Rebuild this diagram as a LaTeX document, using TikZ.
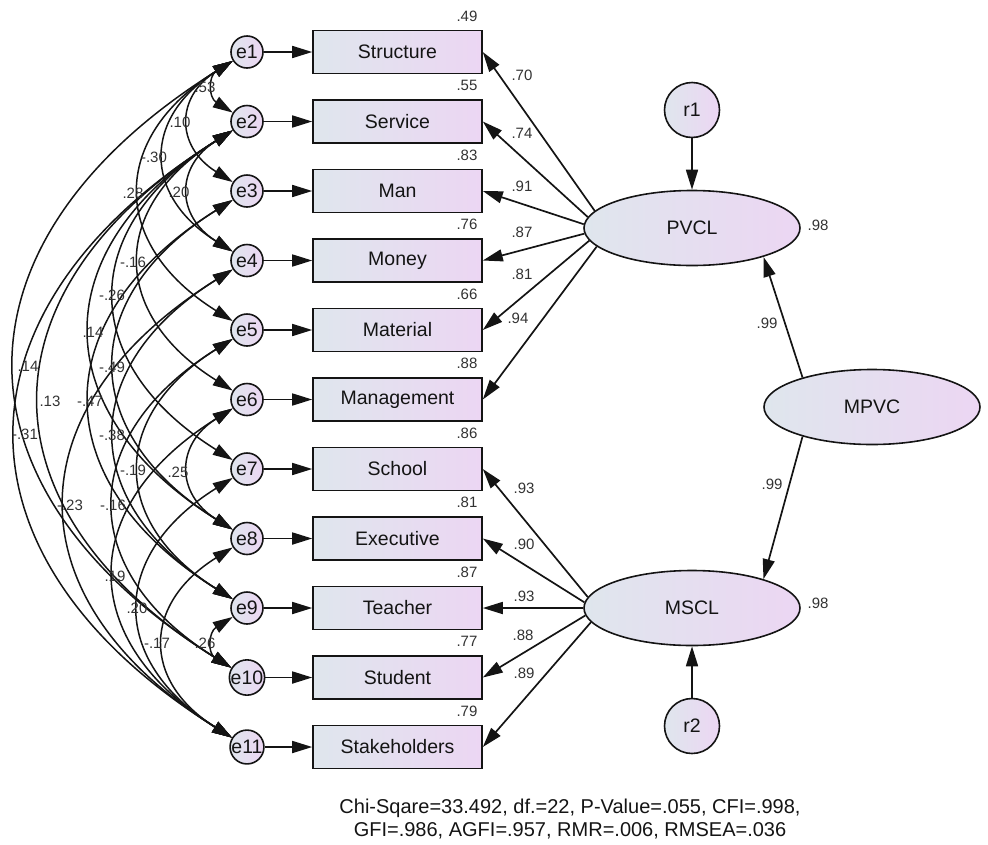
\documentclass[tikz,border=0pt]{standalone}
\usepackage{fontspec}
\setmainfont{Liberation Sans}
\usetikzlibrary{arrows.meta,shapes.geometric}
\definecolor{fillL}{RGB}{223,230,237}
\definecolor{fillR}{RGB}{236,214,243}
\definecolor{edgec}{RGB}{20,20,20}
\definecolor{labc}{RGB}{50,50,50}
\begin{document}
\begin{tikzpicture}[x=1pt,y=1pt,
  >={Triangle[length=20pt,width=12pt]},
  every node/.style={font=\fontsize{19.5}{22}\selectfont, text=edgec},
  errnode/.style={circle, draw=edgec, line width=1.6pt, left color=fillL, right color=fillR,
    minimum size=32pt, inner sep=0pt},
  obsbox/.style={rectangle, draw=edgec, line width=1.6pt, left color=fillL, right color=fillR,
    minimum width=169pt, minimum height=43pt, inner sep=0pt},
  latent/.style={ellipse, draw=edgec, line width=1.6pt, left color=fillL, right color=fillR,
    minimum width=216pt, minimum height=75pt, inner sep=0pt},
  resid/.style={circle, draw=edgec, line width=1.6pt, left color=fillL, right color=fillR,
    minimum size=55pt, inner sep=0pt},
  regarrow/.style={->, line width=1.7pt, draw=edgec},
  cov/.style={<->, line width=1.5pt, draw=edgec},
  covbend/.style={out=212, in=148, looseness=1.43},
  est/.style={font=\fontsize{15}{17}\selectfont, text=labc, inner sep=0pt},
]
\useasboundingbox (0,0) rectangle (988,-844);

% error terms and observed indicators
\foreach \i/\t in {1/Structure,2/Service,3/Man,4/Money,5/Material,6/Management,
                   7/School,8/Executive,9/Teacher,10/Student,11/Stakeholders}{
  \node[errnode] (e\i) at (247,{-52-69.5*(\i-1)}) {e\i};
  \node[obsbox] (v\i) at (397.5,{-52-69.5*(\i-1)}) {\t};
  \draw[regarrow] (e\i) -- (v\i);
}

% squared multiple correlations
\foreach \i/\r in {1/.49,2/.55,3/.83,4/.76,5/.66,6/.88,7/.86,8/.81,9/.87,10/.77,11/.79}{
  \node[est] (smc\i) at (467,{-52-69.5*(\i-1)+36}) {\r};
}

% latent factors
\node[latent] (pvcl) at (692,-228) {PVCL};
\node[latent] (mscl) at (692,-608) {MSCL};
\node[latent] (mpvc) at (872,-407) {MPVC};
\node[resid] (r1) at (692,-110) {r1};
\node[resid] (r2) at (692,-726) {r2};

\draw[regarrow] (r1) -- (pvcl);
\draw[regarrow] (r2) -- (mscl);
\draw[regarrow] (mpvc.157) -- (pvcl.338);
\draw[regarrow] (mpvc.203) -- (mscl.22);

\node[est] (s1) at (767,-323) {.99};
\node[est] (s2) at (772,-484) {.99};
\node[est] (rsq1) at (818,-225) {.98};
\node[est] (rsq2) at (818,-603) {.98};

% factor loadings
\foreach \i/\a in {1/170,2/174,3/178,4/183,5/187,6/191}{
  \draw[regarrow] (pvcl.\a) -- (v\i.east);
}
\foreach \i/\a in {7/174,8/177,9/180,10/184,11/188}{
  \draw[regarrow] (mscl.\a) -- (v\i.east);
}
\foreach \n/\x/\y/\t in {1/522/75/.70,2/522/133/.74,3/522/186/.91,4/522/232/.87,5/522/274/.81,6/518/318/.94,
                         7/524/488/.93,8/524/544/.90,9/524/596/.93,10/523/635/.88,11/524/673/.89}{
  \node[est] (ld\n) at (\x,-\y) {\t};
}

% error covariances
\foreach \a/\b in {1/2,1/3,1/4,1/5,2/4,2/6,2/7,2/8,1/10,3/8,2/10,3/9,2/11,4/9,5/9,6/8,
                   4/11,5/10,6/11,7/11,8/11,9/10}{
  \draw[cov] (e\a) to[covbend] (e\b);
}
\foreach \n/\x/\y/\t in {1/205/87/.53,2/180/122/.10,3/154/157/-.30,4/133/193/.28,5/179/192/.20,
    6/133/262/-.16,7/112/295/-.26,8/93/332/.14,9/28/366/.14,10/112/367/-.49,11/50/401/.13,
    12/90/401/-.47,13/25/434/-.31,14/112/435/-.38,15/133/470/-.19,16/178/472/.25,
    17/70/505/-.23,18/113/505/-.16,19/115/576/.19,20/137/608/.20,21/157/643/-.17,22/205/643/.26}{
  \node[est] (cv\n) at (\x,-\y) {\t};
}

% fit statistics
\node[align=center, font=\fontsize{20}{23}\selectfont] (fit) at (570,-819)
  {Chi-Sqare=33.492, df.=22, P-Value=.055, CFI=.998,\\GFI=.986, AGFI=.957, RMR=.006, RMSEA=.036};
\end{tikzpicture}
\end{document}
